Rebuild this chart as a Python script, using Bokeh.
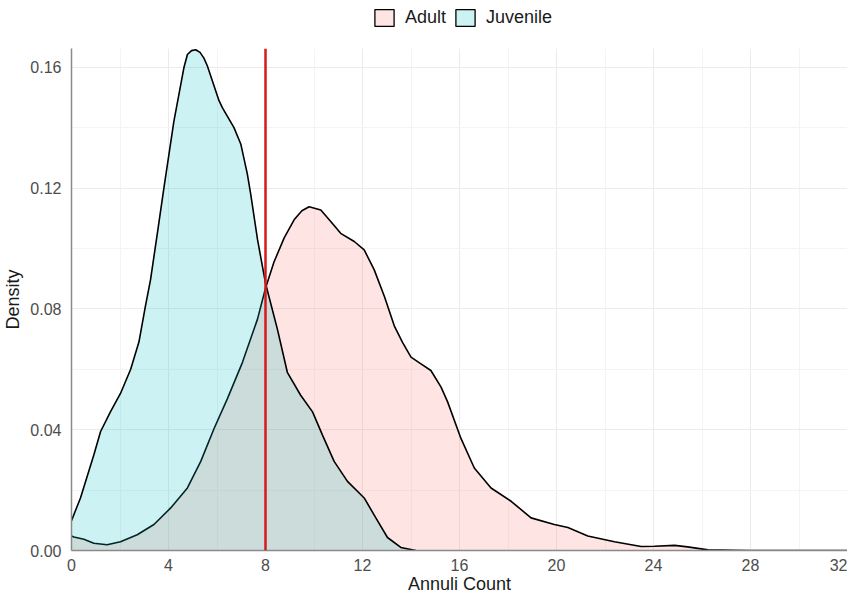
from bokeh.plotting import figure
from bokeh.layouts import column
from bokeh.models import Range1d, FixedTicker, Legend, LegendItem, Span, PrintfTickFormatter
from bokeh.embed import file_html
from bokeh.resources import INLINE

# ---- data ----
series = ["Adult", "Juvenile"]
colors = ["#F8766D", "#00BFC4"]

adult_x = [0.0, 0.1, 0.51, 0.92, 1.47, 2.02, 2.71, 3.4, 4.09, 4.78, 5.33, 5.88,
           6.43, 7.05, 7.67, 8.0, 8.35, 8.77, 9.18, 9.5, 9.8, 10.28, 10.69, 11.1,
           11.66, 12.07, 12.48, 12.9, 13.31, 13.65, 14.0, 14.41, 14.82, 15.24,
           15.51, 16.06, 16.61, 17.3, 18.13, 18.95, 19.91, 20.47, 21.29, 22.39,
           23.49, 24.04, 24.87, 25.4, 26.25, 27.3, 28.0, 32.0]
adult_y = [0.0048, 0.0045, 0.0037, 0.0024, 0.0019, 0.0029, 0.0052, 0.0086, 0.0141,
           0.0207, 0.0295, 0.0404, 0.0503, 0.0623, 0.0766, 0.0868, 0.0955, 0.1035,
           0.1095, 0.1125, 0.1138, 0.1127, 0.1089, 0.105, 0.1023, 0.0995, 0.093,
           0.0842, 0.0744, 0.0689, 0.064, 0.0618, 0.0596, 0.0541, 0.0492, 0.0371,
           0.0273, 0.0207, 0.0163, 0.0108, 0.0086, 0.0076, 0.0048, 0.0029, 0.0013,
           0.0014, 0.0017, 0.0012, 0.0002, 0.0001, 0.0, 0.0]

juv_x = [0.0, 0.37, 0.92, 1.2, 1.61, 2.02, 2.44, 2.78, 3.05, 3.26, 3.54, 3.81,
         4.22, 4.64, 4.78, 4.95, 5.12, 5.3, 5.46, 5.60, 6.08, 6.22, 6.70, 6.98,
         7.25, 7.39, 7.67, 8.0, 8.49, 8.9, 9.45, 9.94, 10.35, 10.83, 11.38,
         12.07, 12.55, 13.03, 13.58, 14.2]
juv_y = [0.0099, 0.0174, 0.0316, 0.0394, 0.046, 0.052, 0.060, 0.069, 0.081,
         0.0897, 0.105, 0.120, 0.142, 0.160, 0.1642, 0.1655, 0.1658, 0.1649,
         0.163, 0.1605, 0.149, 0.1466, 0.140, 0.1346, 0.1247, 0.118, 0.103,
         0.0885, 0.0733, 0.059, 0.0514, 0.0459, 0.0382, 0.0295, 0.0229, 0.0174,
         0.0108, 0.0043, 0.001, 0.0]

threshold = 8

x_ticks = [0, 4, 8, 12, 16, 20, 24, 28, 32]
x_minor = [2, 6, 10, 14, 18, 22, 26, 30]
y_ticks = [0.0, 0.04, 0.08, 0.12, 0.16]
y_minor = [0.02, 0.06, 0.10, 0.14]

FONT = "Liberation Sans"

# ---------------- legend strip ----------------
leg_fig = figure(width=847, height=40, output_backend="svg", toolbar_location=None,
                 x_range=Range1d(0, 1), y_range=Range1d(0, 1),
                 x_axis_type=None, y_axis_type=None, min_border=0)
leg_fig.outline_line_color = None
# swatch proxies: a single point placed outside the strip's ranges (never visible)
r_a = leg_fig.patch(x=[9], y=[9], fill_color=colors[0], fill_alpha=0.2,
                    line_color="black", line_width=1.3)
r_j = leg_fig.patch(x=[9], y=[9], fill_color=colors[1], fill_alpha=0.2,
                    line_color="black", line_width=1.3)
legend = Legend(items=[LegendItem(label=series[0], renderers=[r_a]),
                       LegendItem(label=series[1], renderers=[r_j])],
                orientation="horizontal", location=(301, 12),
                glyph_width=24, glyph_height=21, label_standoff=9, spacing=7,
                padding=0, margin=0, label_text_font=FONT,
                label_text_font_size="18px", label_text_color="#1A1A1A",
                border_line_color=None, background_fill_alpha=0)
leg_fig.add_layout(legend, "center")

# ---------------- main plot ----------------
p = figure(width=847, height=556, output_backend="svg", toolbar_location=None,
           x_range=Range1d(0, 32), y_range=Range1d(0, 0.1662),
           min_border_left=63, min_border_right=0, min_border_top=8,
           min_border_bottom=40)
p.outline_line_color = None
p.background_fill_color = "white"

p.xaxis.ticker = FixedTicker(ticks=x_ticks, minor_ticks=x_minor)
p.yaxis.ticker = FixedTicker(ticks=y_ticks, minor_ticks=y_minor)
p.xgrid.ticker = p.xaxis.ticker
p.ygrid.ticker = p.yaxis.ticker
p.yaxis.formatter = PrintfTickFormatter(format="%.2f")
for g in (p.xgrid, p.ygrid):
    g.grid_line_color = "#EBEBEB"
    g.grid_line_width = 1
    g.minor_grid_line_color = "#F4F4F4"
    g.minor_grid_line_width = 1

for ax in (p.xaxis, p.yaxis):
    ax.axis_line_color = "#8A8A8A"
    ax.axis_line_width = 1.5
    ax.major_tick_line_color = None
    ax.minor_tick_line_color = None
    ax.major_label_text_font = FONT
    ax.major_label_text_font_size = "16px"
    ax.major_label_text_color = "#4D4D4D"
    ax.axis_label_text_font = FONT
    ax.axis_label_text_font_size = "18px"
    ax.axis_label_text_font_style = "normal"
    ax.axis_label_text_color = "#1A1A1A"

p.xaxis.axis_label = "Annuli Count"
p.yaxis.axis_label = "Density"
p.xaxis.major_label_standoff = 2
p.xaxis.axis_label_standoff = 0
p.yaxis.major_label_standoff = 4
p.yaxis.axis_label_standoff = 4

p.varea(x=adult_x, y1=0, y2=adult_y, fill_color=colors[0], fill_alpha=0.2)
p.line(adult_x, adult_y, line_color="black", line_width=1.6)
p.varea(x=juv_x, y1=0, y2=juv_y, fill_color=colors[1], fill_alpha=0.2)
p.line(juv_x, juv_y, line_color="black", line_width=1.6)

p.add_layout(Span(location=threshold, dimension="height", line_color="#D41A1A",
                  line_width=2.5))

layout = column(leg_fig, p, spacing=0)
open("out.html", "w").write(file_html(layout, INLINE))
